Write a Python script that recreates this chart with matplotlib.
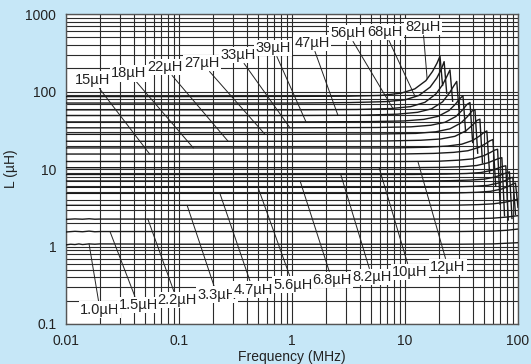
import numpy as np
import matplotlib.pyplot as plt
from matplotlib.ticker import FixedLocator, FixedFormatter, NullFormatter

plt.rcParams['font.family'] = ['Liberation Sans', 'DejaVu Sans']

# inductance (uH) vs frequency (MHz)
labels = ["1.0µH", "1.5µH", "2.2µH", "3.3µH", "4.7µH", "5.6µH", "6.8µH", "8.2µH",
          "10µH", "12µH", "15µH", "18µH", "22µH", "27µH", "33µH", "39µH",
          "47µH", "56µH", "68µH", "82µH"]

curve_f = [
    [0.01, 0.011, 0.012, 0.013, 0.014, 0.015, 0.016, 0.018, 0.02, 0.1, 1, 10, 30, 60, 100],
    [0.01, 0.012, 0.014, 0.016, 0.018, 0.02, 0.1, 1, 10, 30, 60, 80, 100],
    [0.01, 0.012, 0.014, 0.016, 0.018, 0.02, 0.1, 1, 10, 20, 40, 60, 80, 100],
    [0.01, 0.1, 1, 15, 30, 45, 60, 75, 85, 95, 100],
    [0.01, 0.1, 1, 14.3, 28.5, 42.8, 57, 71.3, 81.7, 89.3, 95, 100],
    [0.01, 0.1, 1, 13.5, 27, 40.5, 54, 67.5, 77.4, 84.6, 90, 95],
    [0.01, 0.1, 1, 12.6, 25.2, 37.8, 50.4, 63, 72.2, 79, 84, 88.5],
    [0.01, 0.1, 1, 11.7, 23.4, 35.1, 46.8, 58.5, 67.1, 73.3, 78, 82],
    [0.01, 0.1, 1, 10.8, 21.6, 32.4, 43.2, 54, 61.9, 67.7, 72, 76],
    [0.01, 0.1, 1, 9.9, 19.8, 29.7, 39.6, 49.5, 56.8, 62, 66, 69.5],
    [0.01, 0.1, 1, 9, 18, 27, 36, 45, 51.6, 56.4, 60, 63.5],
    [0.01, 0.1, 1, 8, 15.9, 23.9, 31.8, 39.8, 45.6, 49.8, 53, 56],
    [0.01, 0.1, 1, 6.9, 13.8, 20.7, 27.6, 34.5, 39.6, 43.2, 46, 48.5],
    [0.01, 0.1, 1, 6.2, 12.5, 18.7, 25, 31.2, 35.8, 39.1, 41.6, 44],
    [0.01, 0.1, 1, 5.6, 11.3, 16.9, 22.6, 28.2, 32.3, 35.3, 37.6, 39.7],
    [0.01, 0.1, 1, 4.9, 9.8, 14.7, 19.6, 24.5, 28.0, 30.6, 32.6, 34.4],
    [0.01, 0.1, 1, 4.3, 8.6, 12.9, 17.2, 21.5, 24.7, 27.0, 28.7, 30.3],
    [0.01, 0.1, 1, 3.75, 7.5, 11.25, 15, 18.75, 21.5, 23.5, 25, 26.4],
    [0.01, 0.1, 1, 3.3, 6.7, 10.0, 13.3, 16.7, 19.1, 20.9, 22.2, 23.4],
    [0.01, 0.1, 1, 3.1, 6.1, 9.2, 12.2, 15.3, 17.5, 19.2, 20.4, 21.5],
]

curve_L = [
    [1.05, 1.07, 1.06, 1.08, 1.06, 1.07, 1.08, 1.07, 1.08, 1.07, 1.07, 1.07, 1.07, 1.08, 1.12],
    [1.54, 1.57, 1.55, 1.58, 1.55, 1.56, 1.56, 1.56, 1.56, 1.56, 1.58, 1.62, 1.68],
    [2.24, 2.27, 2.25, 2.28, 2.25, 2.26, 2.26, 2.26, 2.26, 2.26, 2.28, 2.32, 2.4, 2.5],
    [3.4, 3.4, 3.4, 3.4, 3.42, 3.47, 3.55, 3.7, 3.85, 4.0, 4.1],
    [4.85, 4.85, 4.85, 4.85, 4.9, 5.0, 5.15, 5.5, 5.95, 6.35, 6.6, 3.2],
    [5.8, 5.8, 5.8, 5.8, 5.86, 5.97, 6.15, 6.6, 7.1, 7.6, 7.8, 2.6],
    [7.0, 7.0, 7.0, 7.0, 7.07, 7.2, 7.4, 7.9, 8.5, 8.9, 9.2, 2.3],
    [8.5, 8.5, 8.5, 8.5, 8.6, 8.75, 9.0, 9.6, 10.3, 10.8, 11, 2.2],
    [10.4, 10.4, 10.4, 10.4, 10.5, 10.7, 11.1, 12.0, 13.0, 13.7, 14, 2.5],
    [12.5, 12.5, 12.5, 12.5, 12.6, 13.0, 13.5, 14.8, 16.3, 17.5, 18, 3.5],
    [15.6, 15.6, 15.6, 15.6, 15.9, 16.4, 17.2, 19.0, 21.2, 23.1, 24, 6],
    [18.7, 18.7, 18.7, 18.7, 19.1, 19.8, 20.9, 23.4, 26.6, 29.5, 31, 9],
    [22.8, 22.8, 22.8, 23.0, 23.5, 24.4, 26.4, 31.0, 36.9, 42.2, 44, 12],
    [28, 28, 28, 28.3, 28.8, 30.2, 33.0, 39.2, 47.6, 56, 58, 16],
    [34, 34, 34, 34.3, 35.0, 36.7, 40.1, 47.6, 57.8, 68, 72, 22],
    [40.5, 40.5, 40.5, 40.9, 41.7, 43.7, 47.8, 56.7, 68.9, 81, 88, 30],
    [49, 49, 49, 49.5, 51, 53.9, 59.8, 73.5, 95.6, 118, 135, 50],
    [58, 58, 58, 58.6, 60.3, 63.8, 72.5, 92.8, 122, 157, 190, 75],
    [71, 71, 71, 72, 74, 78, 89, 114, 149, 192, 243, 95],
    [86, 86, 86.5, 87, 89, 95, 108, 138, 181, 232, 285, 120],
]

# where each leader line touches its curve (MHz)
leader_f = [0.016, 0.0245, 0.053, 0.118, 0.23, 0.5, 1.18, 2.7, 5.9, 13,
            0.055, 0.134, 0.272, 0.577, 0.96, 1.33, 2.55, 7.8, 12.3, 15.7]
# label text centres (MHz, uH)
label_x = [0.02, 0.0435, 0.096, 0.217, 0.452, 1.02, 2.26, 5.1, 11.1, 24,
           0.0173, 0.036, 0.075, 0.16, 0.333, 0.68, 1.5, 3.13, 6.65, 14.4]
label_y = [0.152, 0.176, 0.204, 0.237, 0.275, 0.319, 0.37, 0.404, 0.469, 0.544,
           141, 173, 207, 233, 296, 364, 423, 569, 586, 680]

bg = '#c6e7f7'
fig = plt.figure(figsize=(5.31, 3.64), dpi=100, facecolor=bg)
ax = fig.add_axes([0.1243, 0.1099, 0.8512, 0.8516])
ax.set_facecolor('white')
ax.set_xscale('log')
ax.set_yscale('log')
ax.set_xlim(0.01, 100)
ax.set_ylim(0.1, 1000)

ax.grid(True, which='both', color='#2b2b2b', lw=0.8)
ax.set_axisbelow(True)

for f, L in zip(curve_f, curve_L):
    ax.plot(f, L, color='#1a1a1a', lw=1.0, zorder=3)

for i, lab in enumerate(labels):
    f = np.array(curve_f[i])
    L = np.array(curve_L[i])
    yl = np.exp(np.interp(np.log(leader_f[i]), np.log(f), np.log(L)))
    ax.annotate(lab, xy=(leader_f[i], yl), xytext=(label_x[i], label_y[i]),
                ha='center', va='center', fontsize=10.5, color='#222',
                bbox=dict(boxstyle='square,pad=0.1', fc='white', ec='none'),
                arrowprops=dict(arrowstyle='-', lw=0.7, color='#222',
                                shrinkA=0, shrinkB=0),
                zorder=5)

xt = [0.01, 0.1, 1, 10, 100]
yt = [0.1, 1, 10, 100, 1000]
ax.xaxis.set_major_locator(FixedLocator(xt))
ax.xaxis.set_major_formatter(FixedFormatter(["0.01", "0.1", "1", "10", "100"]))
ax.yaxis.set_major_locator(FixedLocator(yt))
ax.yaxis.set_major_formatter(FixedFormatter(["0.1", "1", "10", "100", "1000"]))
ax.xaxis.set_minor_formatter(NullFormatter())
ax.yaxis.set_minor_formatter(NullFormatter())
ax.tick_params(which='both', length=0, labelsize=10, colors='#222', pad=7)

for s in ax.spines.values():
    s.set_color('#555')
    s.set_linewidth(1.0)

ax.set_xlabel("Frequency (MHz)", fontsize=10, color='#222', labelpad=2)
ax.set_ylabel("L (µH)", fontsize=10, color='#222', labelpad=5)

fig.savefig("out.png", dpi=100, facecolor=bg)
